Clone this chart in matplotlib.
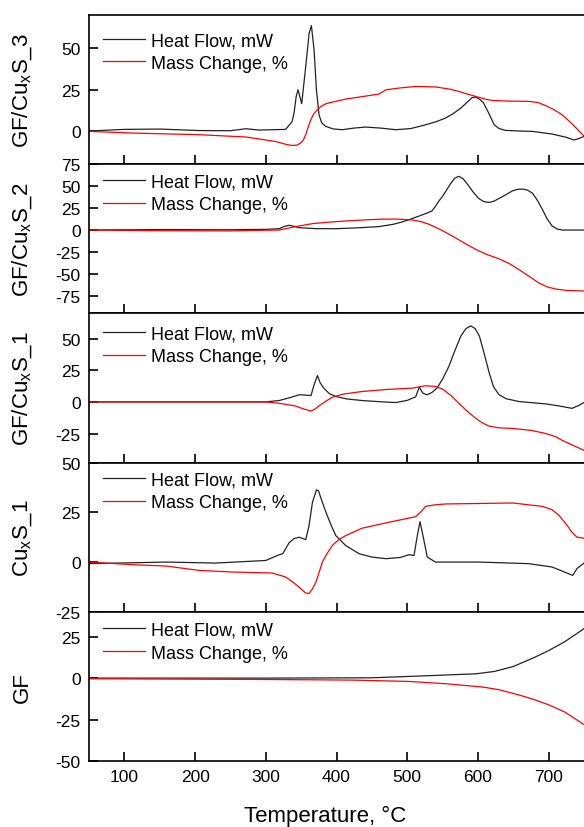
import matplotlib
matplotlib.use("Agg")
import matplotlib.pyplot as plt

plt.rcParams['font.family'] = ['Liberation Sans', 'DejaVu Sans']
plt.rcParams['mathtext.default'] = 'regular'
plt.rcParams['axes.unicode_minus'] = False

# ---- data ----
# panel 1: GF/CuxS_3
t1_heat = [50, 100, 150, 205, 250, 272, 290, 328, 337, 340, 343, 345.6, 350.8, 356.5, 361.3, 364.5,
           368.3, 371.6, 375.3, 379, 384.8, 395, 408, 425, 441, 462, 484, 505, 521, 540, 554, 565,
           576, 585, 592, 597, 603, 608, 615, 623, 630, 639, 660, 677, 705, 725, 736, 743, 750]
v1_heat = [0, 1.0, 1.2, 0.3, 0.2, 1.4, 0.6, 1.0, 5.5, 10.9, 20.9, 24.9, 16.5, 39, 59, 63.6,
           49, 25, 9.8, 5, 2.8, 1.3, 0.8, 1.8, 2.4, 1.8, 0.8, 1.5, 3.2, 5.5, 7.8, 10.5,
           13.9, 17.5, 20.2, 20.5, 19, 16.9, 11, 3.8, 1.5, 0.4, 0, -0.2, -1.8, -3.8, -5.4, -4.5, -3.2]
t1_mass = [50, 111, 206, 272, 314, 330, 338, 344, 349, 353, 356.5, 360, 363.6, 368, 373, 378, 385,
           400, 413, 440, 460, 470, 490, 512, 540, 560, 573, 585, 597, 610, 620, 640, 672, 685,
           696, 708, 719, 733, 742, 750]
v1_mass = [-0.2, -1.2, -2.2, -3.6, -6.3, -8.2, -8.7, -8.5, -7.3, -5.5, -2.2, 2.5, 6.8, 10.5, 12.9,
           14.8, 16.5, 18, 19.3, 21, 22.3, 24.9, 26, 26.9, 26.6, 25.3, 23.9, 22.3, 20.9, 19.3, 18.5,
           18.1, 17.9, 17.2, 15.3, 12.8, 9.8, 4.4, 0.5, -3.0]

# panel 2: GF/CuxS_2
t2_heat = [50, 150, 250, 300, 319, 326, 333, 340, 347, 370, 399, 430, 460, 480, 493, 505, 517, 527,
           535, 540, 545, 550, 556, 561, 567, 573, 579, 585, 593, 601, 608, 616, 623, 630, 640, 649,
           656, 663, 670, 677, 684, 691, 698, 705, 712, 719, 750]
v2_heat = [0, 0.5, 0.3, 0.8, 1.5, 4, 5.4, 4.2, 2.7, 1.6, 1.5, 2.5, 3.9, 6.5, 9.2, 12.5, 16, 19,
           21.8, 27, 33.3, 38.3, 46, 52.4, 59, 61.2, 58.5, 52.4, 43.5, 36, 32.5, 31.4, 33, 36, 40.5, 44.7,
           46.3, 46.7, 45.5, 42.1, 34, 23.7, 12.5, 4.6, 1.2, 0, 0]
t2_mass = [50, 150, 250, 319, 340, 366, 390, 413, 440, 460, 485, 507, 520, 531, 547, 564, 580, 597,
           613, 630, 645, 658, 672, 686, 698, 710, 725, 750]
v2_mass = [0, -0.8, -1.0, 0, 3.5, 7.3, 9, 10.3, 11.5, 12.3, 12.5, 11.5, 9.5, 6.5, 0.5, -6.9, -14.5, -22.1,
           -28, -32.8, -38.5, -45.1, -52.5, -60.3, -64.8, -67.2, -68.8, -69.5]

# panel 3: GF/CuxS_1
t3_heat = [50, 200, 300, 319, 335, 347, 352, 358, 364, 368, 373, 377, 382, 390, 399, 415, 436, 460,
           484, 500, 507, 512, 517, 522, 528, 535, 542, 550, 559, 567, 576, 583, 590, 596, 602, 608,
           616, 622, 630, 640, 658, 680, 696, 715, 733, 742, 750]
v3_heat = [0, 0, 0, 1.1, 3.5, 5.6, 5.6, 5.2, 5.1, 13, 20.8, 15, 10.9, 6.5, 4.3, 2.3, 1.1, 0.2,
           -0.5, 1.2, 2.9, 4, 11.7, 7, 5.6, 7.5, 10.9, 18, 28.2, 40, 52.2, 58, 60.1, 58, 52.2, 40,
           22.9, 12, 5.6, 2.5, 0.3, -0.8, -1.6, -3.2, -5.1, -3, -0.5]
t3_mass = [50, 200, 300, 319, 342, 347, 355, 364, 370, 375, 385, 394, 410, 436, 470, 507, 526, 540,
           550, 562, 573, 585, 597, 606, 616, 630, 649, 675, 696, 710, 719, 735, 750]
v3_mass = [0, 0, 0, -1.1, -3.2, -4.3, -5.8, -7.2, -5.5, -3.2, 0.5, 3.7, 6.2, 8.2, 9.8, 10.9, 12.8, 12.2,
           10.1, 5, -1.1, -7.5, -13, -16.5, -19.2, -20.5, -21, -22.5, -25, -27.5, -30.4, -34.5, -38.3]

# panel 4: CuxS_1
t4_heat = [50, 159, 229, 300, 319, 324, 333, 340, 347, 352, 356.5, 361, 366, 371.6, 374.5, 377.7, 382,
           387, 393, 399, 413, 432, 450, 470, 490, 502.5, 509.6, 514.3, 518.1, 522.3, 528.4, 540, 601,
           672, 705, 734, 740, 750]
v4_heat = [-0.8, 0, -0.5, 0.8, 3.7, 4.2, 9.7, 11.8, 12.5, 11.9, 11.3, 18, 30, 36.3, 35.8, 32.5, 28,
           23.3, 18, 13.3, 8.3, 4.2, 2.5, 1.7, 2.3, 3.7, 3.3, 13.3, 20.3, 13.3, 2.5, 0, 0,
           -0.8, -2.5, -6.7, -3.3, -0.5]
t4_mass = [50, 111, 159, 206, 253, 309, 328, 338, 347, 352, 356, 361, 366, 371, 376, 380, 387, 394, 403,
           413, 436, 474, 512, 520, 526, 540, 554, 649, 691, 705, 715, 725, 733, 740, 750]
v4_mass = [0, -1.3, -2, -4.2, -5, -5.5, -7.5, -10, -12.5, -14.2, -15.5, -15.8, -13.5, -10, -4.5, 0, 4.5,
           8.3, 11.2, 13.3, 17, 20, 22.8, 25.5, 28, 28.8, 29.2, 29.7, 28, 26.3, 23.3, 19, 15, 12.5, 12]

# panel 5: GF
t5_heat = [50, 200, 300, 450, 502, 550, 597, 623, 650, 680, 700, 723, 750]
v5_heat = [0, 0, 0, 0.2, 1, 1.8, 2.6, 4, 7, 12.5, 16.6, 22, 29.8]
t5_mass = [50, 292, 423, 502, 555, 607, 630, 660, 680, 700, 723, 750]
v5_mass = [-0.4, -0.8, -1.2, -2, -3.4, -5.4, -7, -10.4, -13, -16.1, -20.5, -28]

panels = [
    ("GF/Cu$_x$S_3", t1_heat, v1_heat, t1_mass, v1_mass, (-20, 70), [0, 25, 50], 24),
    ("GF/Cu$_x$S_2", t2_heat, v2_heat, t2_mass, v2_mass, (-95, 75), [-75, -50, -25, 0, 25, 50, 75], 16),
    ("GF/Cu$_x$S_1", t3_heat, v3_heat, t3_mass, v3_mass, (-48, 70), [-25, 0, 25, 50], 19),
    ("Cu$_x$S_1", t4_heat, v4_heat, t4_mass, v4_mass, (-25, 50), [-25, 0, 25, 50], 15.5),
    ("GF", t5_heat, v5_heat, t5_mass, v5_mass, (-50, 40), [-50, -25, 0, 25], 17),
]
xticks = [100, 200, 300, 400, 500, 600, 700]

W, H = 584, 828
fig = plt.figure(figsize=(W / 100, H / 100), dpi=100)

left_px, right_px = 89, 584
top_px, bottom_px = 16, 762
ph = (bottom_px - top_px) / len(panels)

for i, (name, th, vh, tm, vm, ylim, yt, leg_off) in enumerate(panels):
    y0 = top_px + i * ph
    ax = fig.add_axes([left_px / W, 1 - (y0 + ph) / H, (right_px - left_px) / W, ph / H])
    ax.plot(th, vh, color='#222222', lw=0.9, label="Heat Flow, mW")
    ax.plot(tm, vm, color='red', lw=0.9, label="Mass Change, %")
    ax.set_xlim(50, 750)
    ax.set_ylim(*ylim)
    ax.set_yticks(yt)
    ax.set_xticks(xticks)
    ax.spines['right'].set_visible(False)
    for s in ['left', 'top', 'bottom']:
        ax.spines[s].set_linewidth(1.2)
    ax.tick_params(axis='both', direction='in', length=6.5, width=1.2, labelsize=12.5)
    ax.tick_params(axis='y', pad=6)
    ax.tick_params(axis='x', pad=6)
    if i < len(panels) - 1:
        ax.tick_params(axis='x', labelbottom=False)
    # legend top-left
    leg_top = (leg_off - 7) / ph
    ax.legend(loc='upper left', bbox_to_anchor=(14 / (right_px - left_px), 1 - leg_top),
              frameon=False, fontsize=13, handlelength=2.3, handletextpad=0.35,
              labelspacing=0.32, borderpad=0, borderaxespad=0)
    fig.text(28 / W, 1 - (y0 + ph / 2) / H, name, rotation=90, rotation_mode='anchor',
             ha='center', va='baseline', fontsize=16)

fig.text(325 / W, 1 - 822 / H, "Temperature, °C", ha='center', va='baseline', fontsize=16)

fig.savefig("out.png", dpi=100)
